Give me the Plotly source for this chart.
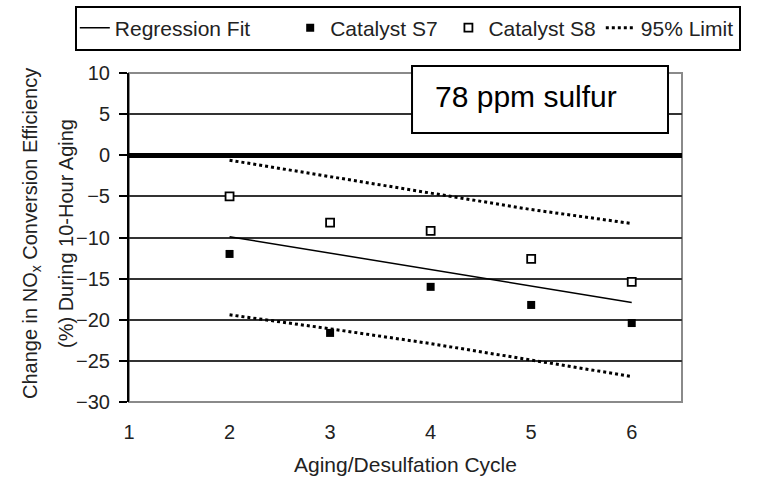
import plotly.graph_objects as go

cycles = [2, 3, 4, 5, 6]
s7 = [-12.0, -21.6, -16.0, -18.2, -20.4]
s8 = [-5.0, -8.2, -9.2, -12.6, -15.4]
reg_x = [2, 6]
reg_y = [-9.9, -17.9]
upper = [-0.6, -2.6, -4.6, -6.6, -8.3]
lower = [-19.4, -21.1, -22.9, -24.9, -26.9]
x_ticks = [1, 2, 3, 4, 5, 6]
y_ticks = [10, 5, 0, -5, -10, -15, -20, -25, -30]
names = ["Regression Fit", "Catalyst S7", "Catalyst S8", "95% Limit"]
ytitle_lines = ["Change in NO<sub>x</sub> Conversion Efficiency", "(%) During 10-Hour Aging"]

FONT = "Liberation Sans, Arial, sans-serif"
TXT = "#222222"
NB = "\u00a0"

fig = go.Figure()
fig.add_trace(go.Scatter(x=reg_x, y=reg_y, mode="lines", name=names[0] + NB * 6,
                         line=dict(color="black", width=1.5)))
fig.add_trace(go.Scatter(x=cycles, y=s7, mode="markers", name=names[1] + NB,
                         marker=dict(symbol="square", size=8, color="black",
                                     line=dict(width=0))))
fig.add_trace(go.Scatter(x=cycles, y=s8, mode="markers", name=names[2],
                         marker=dict(symbol="square", size=8, color="white",
                                     line=dict(width=1.8, color="black"))))
fig.add_trace(go.Scatter(x=cycles, y=upper, mode="lines", name=names[3],
                         legendgroup="lim",
                         line=dict(color="black", width=3, dash="3px,3px")))
fig.add_trace(go.Scatter(x=cycles, y=lower, mode="lines", name=names[3],
                         legendgroup="lim", showlegend=False,
                         line=dict(color="black", width=3, dash="3px,3px")))

# plot frame (gray) under everything
fig.add_shape(type="rect", xref="paper", yref="paper", x0=0, x1=1, y0=0, y1=1,
              line=dict(color="#8a8a8a", width=2), layer="below")
# label box
fig.add_shape(type="rect", xref="paper", yref="paper",
              x0=0.5118, x1=0.9747, y0=0.8176, y1=1.0213,
              line=dict(color="black", width=2), fillcolor="white", layer="above")
fig.add_annotation(text="78 ppm sulfur", xref="paper", yref="paper",
                   x=0.5497, y=0.930, xanchor="left", yanchor="middle",
                   showarrow=False, font=dict(family=FONT, size=30, color="black"))

# y-axis title, two rotated lines
for txt, px in zip(ytitle_lines, [-0.1772, -0.1139]):
    fig.add_annotation(text=txt, xref="paper", yref="paper", x=px, y=0.5106,
                       xanchor="center", yanchor="middle", textangle=-90,
                       showarrow=False, font=dict(family=FONT, size=20, color=TXT))

fig.update_layout(
    width=758, height=479,
    margin=dict(l=129, r=76, t=73, b=77, autoexpand=False),
    paper_bgcolor="white", plot_bgcolor="white",
    font=dict(family=FONT, color=TXT),
    showlegend=True,
    legend=dict(orientation="h", x=-0.098, y=1.205, xanchor="left", yanchor="top",
                bordercolor="black", borderwidth=2, bgcolor="white",
                font=dict(family=FONT, size=21, color=TXT),
                itemwidth=30, tracegroupgap=0),
    xaxis=dict(range=[1, 6.5], tickvals=x_ticks, ticks="", showgrid=False,
               zeroline=False, showline=False, ticklabelstandoff=16,
               tickfont=dict(size=20, color=TXT),
               title=dict(text="Aging/Desulfation Cycle", font=dict(size=21, color=TXT),
                          standoff=15)),
    yaxis=dict(range=[-30, 10], tickvals=y_ticks, ticks="outside", ticklen=8,
               tickwidth=2, tickcolor="black", ticklabelstandoff=5,
               showline=True, linecolor="black", linewidth=2,
               showgrid=True, gridcolor="#333333", gridwidth=1.5,
               zeroline=True, zerolinecolor="black", zerolinewidth=5,
               tickfont=dict(size=20, color=TXT)),
)

fig.write_html("out.html")
